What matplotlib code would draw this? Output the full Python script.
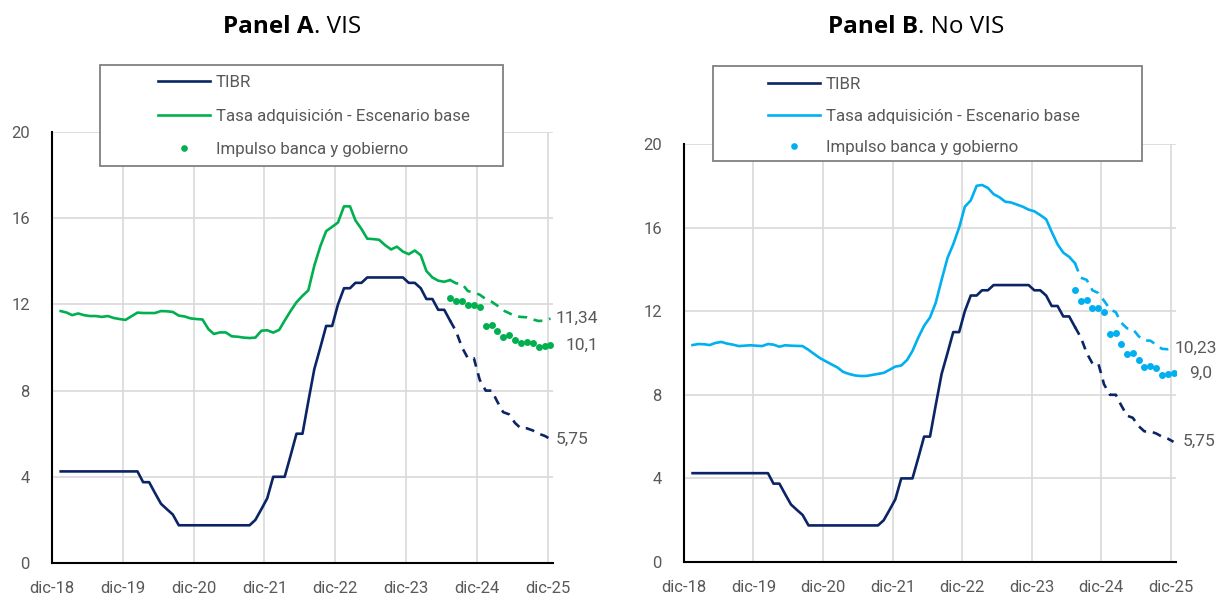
import numpy as np
import pandas as pd
import matplotlib
matplotlib.use("Agg")
import matplotlib.pyplot as plt
from matplotlib.patches import Rectangle
from matplotlib.lines import Line2D

plt.rcParams["font.family"] = ["Roboto", "DejaVu Sans"]

# monthly data, Jan-19 .. Dec-25 (plotted mid-month)
dates = pd.date_range("2019-01-01", "2025-12-01", freq="MS") + pd.Timedelta(days=14)
FC = 66  # index where projection (dashed) starts

tibr = ([4.25] * 14 + [3.75, 3.75, 3.25, 2.75, 2.5, 2.25] + [1.75] * 13 +
        [2.0, 2.5, 3.0, 4.0, 4.0, 4.0, 5.0, 6.0, 6.0, 7.5, 9.0, 10.0, 11.0, 11.0,
         12.0, 12.75, 12.75, 13.0, 13.0] + [13.25] * 7 +
        [13.0, 13.0, 12.75, 12.25, 12.25, 11.75, 11.75, 11.25,
         10.75, 10.0, 9.5, 9.5, 8.5, 8.0, 8.0, 7.5, 7.0, 6.9, 6.5, 6.25, 6.25,
         6.15, 6.0, 5.9, 5.75])

tasa_vis = [11.69, 11.62, 11.5, 11.58, 11.5, 11.46, 11.46, 11.42, 11.46, 11.37,
            11.32, 11.28, 11.45, 11.62, 11.6, 11.6, 11.6, 11.69, 11.68, 11.65,
            11.48, 11.44, 11.35, 11.32, 11.3, 10.85, 10.63, 10.7, 10.7, 10.52,
            10.5, 10.46, 10.44, 10.46, 10.78, 10.8, 10.69, 10.82, 11.25, 11.7,
            12.1, 12.4, 12.65, 13.8, 14.7, 15.4, 15.6, 15.8, 16.55, 16.55,
            15.9, 15.5, 15.05, 15.03, 15.0, 14.75, 14.55, 14.68, 14.45, 14.33,
            14.5, 14.28, 13.55, 13.25, 13.1, 13.05, 13.13,
            12.98, 12.95, 12.62, 12.55, 12.45, 12.25, 12.12, 11.95, 11.72,
            11.6, 11.45, 11.42, 11.4, 11.3, 11.23, 11.25, 11.34]

impulso_vis = [12.28, 12.16, 12.17, 11.96, 11.97, 11.88, 11.0, 11.04, 10.77,
               10.5, 10.57, 10.35, 10.2, 10.27, 10.2, 10.04, 10.07, 10.12]

tasa_novis = [10.38, 10.43, 10.42, 10.38, 10.48, 10.53, 10.45, 10.4, 10.33, 10.35,
              10.37, 10.35, 10.33, 10.43, 10.4, 10.3, 10.37, 10.35, 10.34, 10.33,
              10.15, 9.95, 9.75, 9.6, 9.45, 9.3, 9.1, 9.0, 8.93, 8.9,
              8.9, 8.95, 9.0, 9.05, 9.2, 9.35, 9.4, 9.67, 10.1, 10.75,
              11.3, 11.7, 12.4, 13.5, 14.55, 15.2, 16.0, 17.0, 17.3, 18.0,
              18.04, 17.9, 17.6, 17.45, 17.24, 17.2, 17.1, 17.0, 16.86, 16.78,
              16.6, 16.4, 15.8, 15.2, 14.8, 14.6, 14.3,
              13.6, 13.5, 13.0, 12.87, 12.5, 12.1, 11.95, 11.45, 11.18,
              11.15, 10.8, 10.6, 10.59, 10.4, 10.2, 10.18, 10.23]

impulso_novis = [13.0, 12.5, 12.54, 12.14, 12.17, 11.95, 10.9, 10.94, 10.43,
                 9.94, 9.98, 9.67, 9.35, 9.38, 9.27, 8.95, 8.98, 9.03]

tick_dates = pd.date_range("2018-12-01", "2025-12-01", freq="12MS")
tick_labels = ["dic-18", "dic-19", "dic-20", "dic-21", "dic-22", "dic-23", "dic-24", "dic-25"]

NAVY = "#0A2465"
GREEN = "#00B050"
SKY = "#00B0F0"
GREY = "#595959"
GRID = "#D9D9D9"
LW = 1.9

W, H = 1217, 601
fig = plt.figure(figsize=(W / 100, H / 100), dpi=100, facecolor="white")
titles = []


def px(x0, y0, x1, y1):
    return [x0 / W, 1 - y1 / H, (x1 - x0) / W, (y1 - y0) / H]


def draw_panel(rect, tasa, impulso, colour, title, title_x, legend_box,
               legend_anchor, spacing, lbl_offsets, dot_label):
    ax = fig.add_axes(px(*rect))
    hist = slice(0, FC + 1)
    proj = slice(FC, None)
    dash = (0, (3.4, 2.6))
    ax.plot(dates[hist], tibr[hist], color=NAVY, lw=LW, zorder=3)
    ax.plot(dates[proj], tibr[proj], color=NAVY, lw=LW, ls=dash, zorder=3)
    ax.plot(dates[hist], tasa[hist], color=colour, lw=LW, zorder=3)
    ax.plot(dates[proj], tasa[proj], color=colour, lw=LW, ls=dash, zorder=3)
    ax.plot(dates[FC:], impulso, ls="none", marker="o", ms=5.0, color=colour,
            mec="none", zorder=3)

    ax.set_xlim(pd.Timestamp("2018-12-01"), pd.Timestamp("2025-12-28"))
    ax.set_ylim(0, 20)
    ax.set_yticks(range(0, 21, 4))
    ax.set_xticks(tick_dates)
    ax.set_xticklabels(tick_labels)
    ax.tick_params(length=0, labelsize=12, labelcolor=GREY)
    ax.tick_params(axis="x", pad=13)
    ax.tick_params(axis="y", pad=16)
    ax.grid(True, color=GRID, lw=1.2)
    ax.set_axisbelow(True)
    for s in ["top", "right"]:
        ax.spines[s].set_visible(False)
    for s in ["left", "bottom"]:
        ax.spines[s].set_color("black")
        ax.spines[s].set_linewidth(1.5)
        ax.spines[s].set_zorder(4)

    ends = [(tasa[-1], "{:.2f}".format(tasa[-1]).replace(".", ","), lbl_offsets[0]),
            (impulso[-1], dot_label, lbl_offsets[1]),
            (tibr[-1], "{:.2f}".format(tibr[-1]).replace(".", ","), lbl_offsets[2])]
    for val, txt, off in ends:
        ax.annotate(txt, (dates[-1], val), xytext=(off, 0), textcoords="offset points",
                    ha="left", va="center", fontsize=12.5, color=GREY)

    titles.append((title_x, title))

    x0, y0, x1, y1 = legend_box
    fig.patches.append(Rectangle((x0 / W, 1 - y1 / H), (x1 - x0) / W, (y1 - y0) / H,
                                 transform=fig.transFigure, facecolor="white",
                                 edgecolor="#808080", lw=1.3, zorder=5))
    handles = [Line2D([], [], color=NAVY, lw=LW),
               Line2D([], [], color=colour, lw=LW),
               Line2D([], [], color=colour, ls="none", marker="o", ms=4.8, mec="none")]
    names = ["TIBR", "Tasa adquisición - Escenario base", "Impulso banca y gobierno"]
    leg = fig.legend(handles, names, loc="upper left",
                     bbox_to_anchor=(legend_anchor[0] / W, 1 - legend_anchor[1] / H),
                     frameon=False, fontsize=12.2, labelcolor=GREY, handlelength=3.05,
                     handletextpad=0.35, borderpad=0, borderaxespad=0,
                     labelspacing=spacing)
    leg.set_zorder(6)
    return ax


draw_panel((52, 132, 553, 563), tasa_vis, impulso_vis, GREEN,
           ("Panel A", ". VIS"), 292, (100, 65, 503, 166), (158, 75), 1.1,
           (4, 10.5, 4), "10,1")
draw_panel((684, 144, 1176, 562), tasa_novis, impulso_novis, SKY,
           ("Panel B", ". No VIS"), 916, (713, 66, 1142, 161), (768, 77), 0.98,
           (0.5, 11.5, 6.5), "9,0")

# titles: bold lead + regular rest, centred as a pair
renderer = fig.canvas.get_renderer()
for cx, (bold, rest) in titles:
    t1 = fig.text(0, 1 - 27 / H, bold, fontsize=17.5, fontweight="bold",
                  family="Open Sans", va="center", ha="left")
    t2 = fig.text(0, 1 - 27 / H, rest, fontsize=17.5, family="Open Sans",
                  va="center", ha="left")
    w1 = t1.get_window_extent(renderer).width
    w2 = t2.get_window_extent(renderer).width
    start = cx - (w1 + w2) / 2
    t1.set_x(start / W)
    t2.set_x((start + w1) / W)

fig.savefig("out.png", dpi=100, facecolor="white")
